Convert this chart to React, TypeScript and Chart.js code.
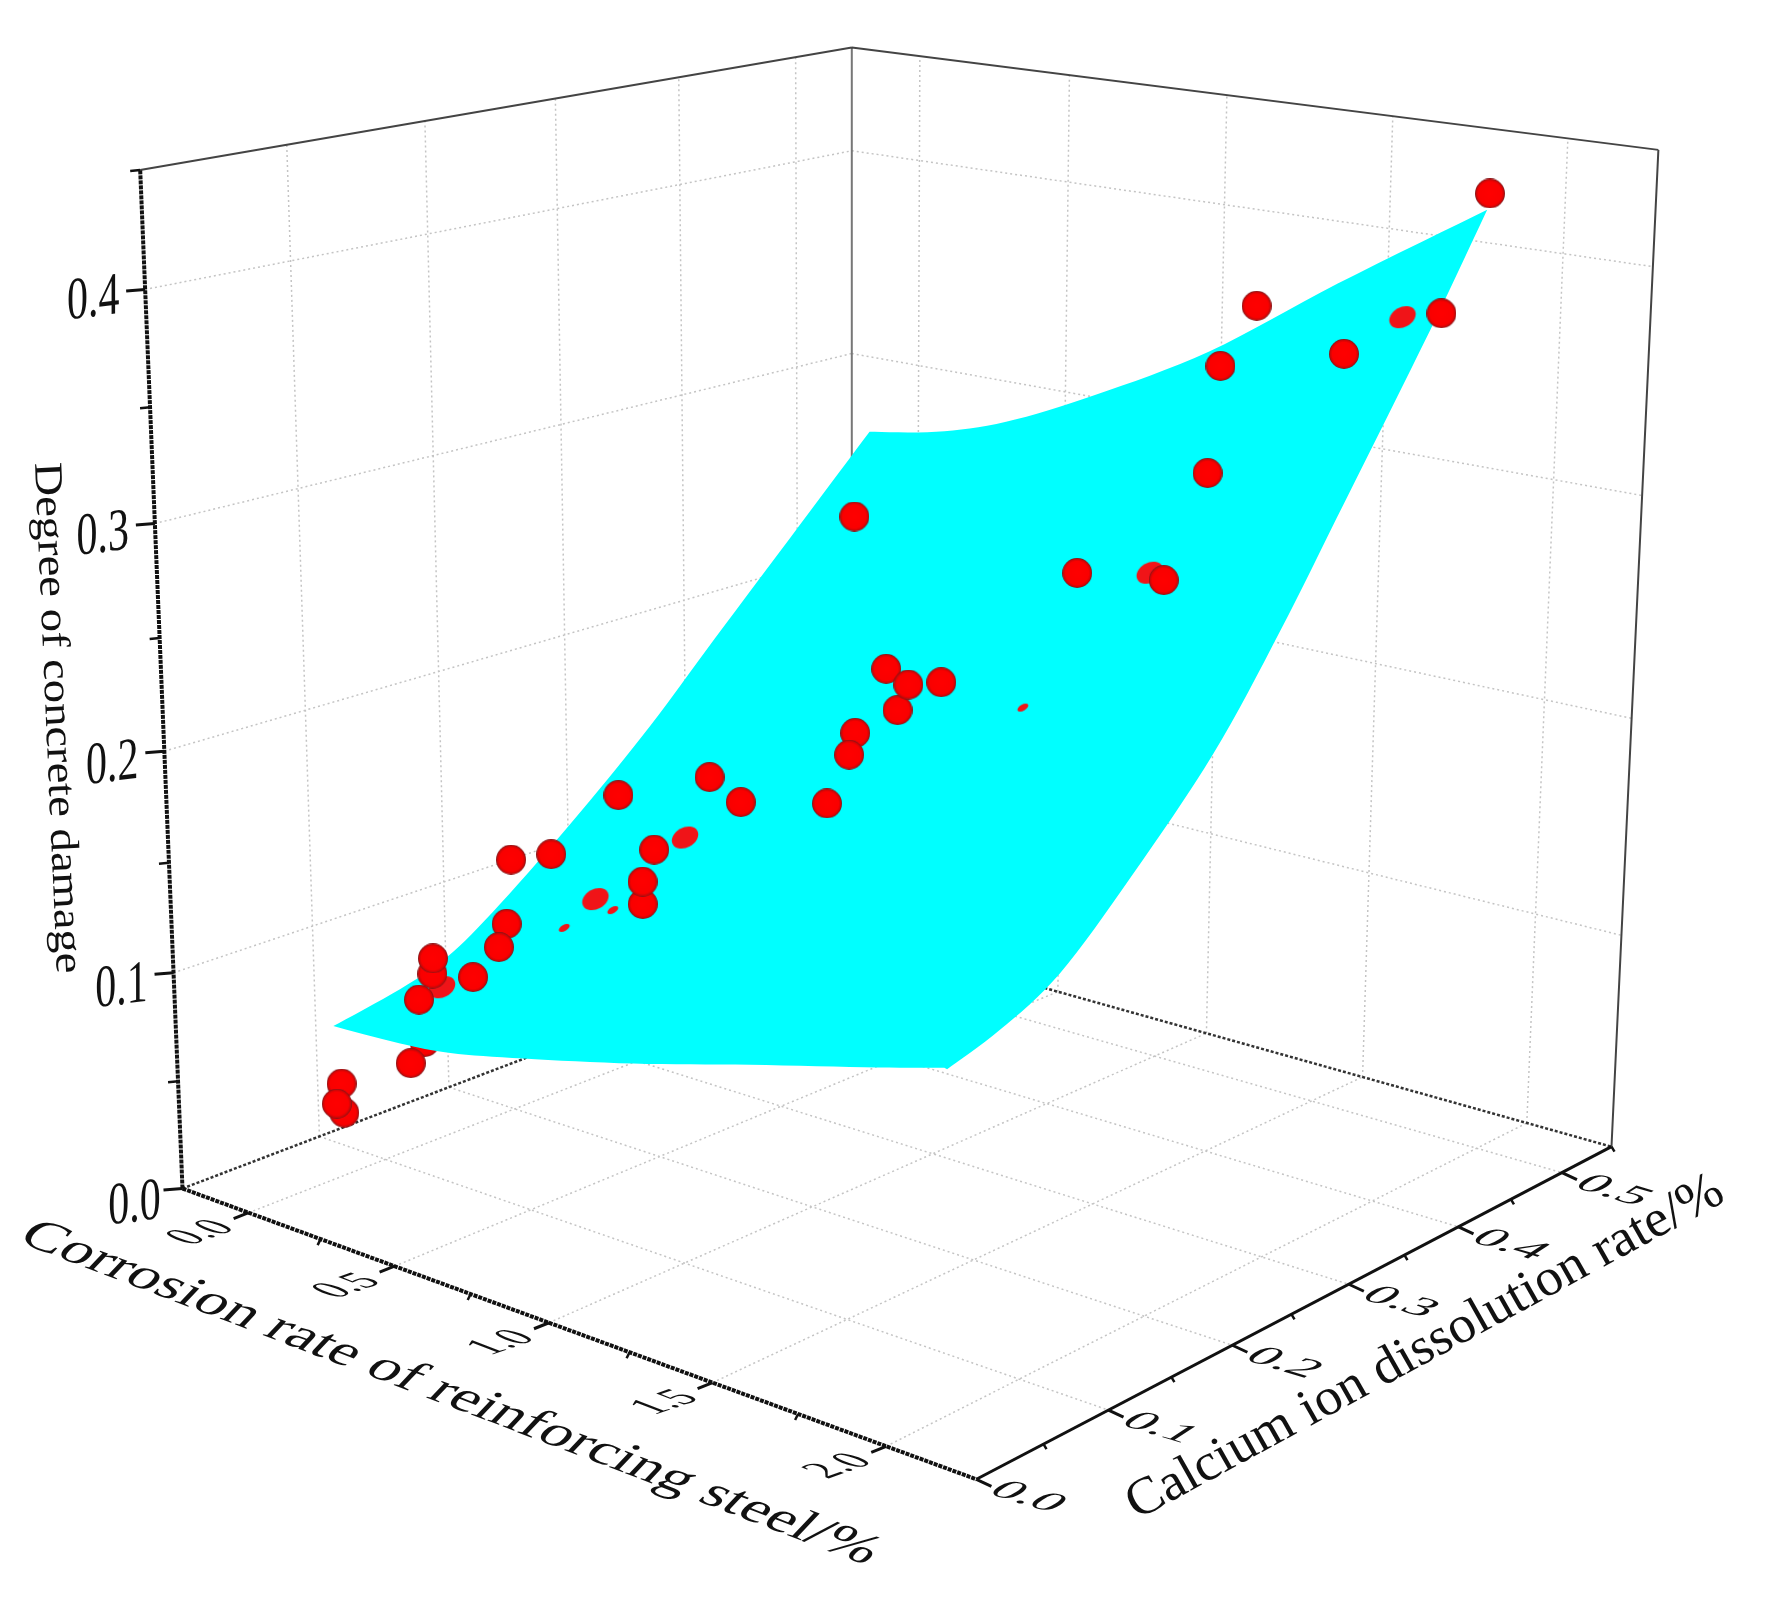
import React, { useRef, useEffect } from 'react';
import { Chart, registerables } from 'chart.js';

Chart.register(...registerables);

// measured points, back to front (later ones paint over earlier ones)
const corrosionRate = [0.199, 0.193, 0.174, 0.336, 0.318, 0.275, 0.346, 0.464, 0.425, 0.461, 0.245, 0.372, 0.425, 0.817, 0.762, 0.711, 0.699, 0.876, 1.163, 1.085, 1.117, 1.026, 1.172, 1.14, 1.247, 0.422, 1.441, 1.746, 1.653, 1.435, 1.605, 1.846, 2.071, 2.03];
const calciumRate = [0.03, 0.03, 0.03, 0.05, 0.071, 0.081, 0.055, 0.069, 0.103, 0.089, 0.147, 0.149, 0.189, 0.115, 0.128, 0.149, 0.195, 0.176, 0.171, 0.213, 0.2, 0.253, 0.224, 0.241, 0.239, 0.383, 0.296, 0.28, 0.343, 0.418, 0.397, 0.4, 0.413, 0.4675];
const damage = [0.048, 0.061, 0.051, 0.072, 0.107, 0.11, 0.1, 0.112, 0.127, 0.121, 0.14, 0.147, 0.168, 0.149, 0.154, 0.162, 0.185, 0.184, 0.195, 0.215, 0.209, 0.234, 0.226, 0.233, 0.238, 0.263, 0.282, 0.291, 0.324, 0.354, 0.387, 0.372, 0.393, 0.436];

// points that lie under the fitted surface
const hiddenCorrosion = [0.54];
const hiddenCalcium = [0.017];
const hiddenDamage = [0.098];
const partCorrosion = [0.392, 0.652, 0.785, 1.682, 1.968];
const partCalcium = [0.062, 0.118, 0.155, 0.287, 0.412];
const partDamage = [0.106, 0.144, 0.169, 0.291, 0.389];
const tipCorrosion = [0.738, 0.628, 1.569];
const tipCalcium = [0.111, 0.1, 0.217];
const tipDamage = [0.144, 0.134, 0.242];

// fitted surface, read along its four edges
const surfaceCorrosionMin = 0.146;
const surfaceCorrosionMax = 2.024;
const surfaceCalciumMin = 0.035;
const surfaceCalciumMax = 0.4675;
const frontCorrosion = [0.146, 0.373, 0.54, 0.778, 1.123, 1.475, 1.839, 2.024];
const frontDamage = [0.084, 0.086, 0.089, 0.097, 0.11, 0.125, 0.14, 0.148];
const rightCalcium = [0.037, 0.076, 0.121, 0.177, 0.241, 0.295, 0.348, 0.419, 0.4675];
const rightDamage = [0.147, 0.154, 0.167, 0.196, 0.234, 0.276, 0.322, 0.384, 0.429];
const backCorrosion = [0.146, 0.371, 0.602, 0.886, 1.238, 1.611, 2.024];
const backDamage = [0.283, 0.289, 0.3, 0.32, 0.349, 0.388, 0.429];
const leftCalcium = [0.035, 0.084, 0.119, 0.16, 0.223, 0.28, 0.334, 0.406, 0.4675];
const leftDamage = [0.084, 0.09, 0.097, 0.113, 0.143, 0.173, 0.205, 0.247, 0.283];

const corrosionTicks = [0, 0.5, 1, 1.5, 2];
const corrosionMinor = [0.25, 0.75, 1.25, 1.75];
const calciumTicks = [0, 0.1, 0.2, 0.3, 0.4, 0.5];
const calciumMinor = [0.05, 0.15, 0.25, 0.35, 0.45, 0.55];
const damageTicks = [0, 0.1, 0.2, 0.3, 0.4];
const damageMinor = [0.05, 0.15, 0.25, 0.35, 0.45];

const U0 = -0.236, U1 = 2.248, V1 = 0.55, Z1 = 0.45;
const W = 1767, H = 1603;
const SERIF = '"Liberation Serif"';

type P3 = [number, number, number];
type Pt = { x: number; y: number };

// perspective camera fitted to the box corners
function project([u, v, z]: P3): Pt {
  const s = (u - U0) / (U1 - U0), t = v / V1, r = z / Z1;
  const w = -0.13425 * s + 0.15725 * t - 0.05946 * r + 1;
  return {
    x: (662.82 * s + 803.24 * t - 50.65 * r + 182.5) / w,
    y: (92.2 * s - 107.63 * t - 1028.66 * r + 1188.5) / w,
  };
}

const GAP: Pt = { x: NaN, y: NaN };

function segments(list: [P3, P3][]): Pt[] {
  const out: Pt[] = [];
  list.forEach(([a, b]) => out.push(project(a), project(b), GAP));
  return out;
}

function ticks(list: P3[], dx: number, dy: number): Pt[] {
  const out: Pt[] = [];
  list.forEach(p => {
    const a = project(p);
    out.push(a, { x: a.x + dx, y: a.y + dy }, GAP);
  });
  return out;
}

// rounds one surface edge for drawing, its ends stay where they are
function roundEdge(pts: Pt[]): Pt[] {
  const out: Pt[] = [];
  for (let i = 0; i < pts.length - 1; i++) {
    const p0 = pts[Math.max(i - 1, 0)], p1 = pts[i], p2 = pts[i + 1], p3 = pts[Math.min(i + 2, pts.length - 1)];
    for (let k = 0; k < 8; k++) {
      const f = k / 8, f2 = f * f, f3 = f2 * f;
      const at = (a: number, b: number, c: number, d: number) =>
        0.5 * (2 * b + (c - a) * f + (2 * a - 5 * b + 4 * c - d) * f2 + (3 * b - a - 3 * c + d) * f3);
      out.push({ x: at(p0.x, p1.x, p2.x, p3.x), y: at(p0.y, p1.y, p2.y, p3.y) });
    }
  }
  out.push(pts[pts.length - 1]);
  return out;
}

function lineSet(data: Pt[], color: string, width: number, dash: number[] = []) {
  return { data, showLine: true, borderColor: color, borderWidth: width, borderDash: dash, pointRadius: 0, fill: false, spanGaps: false, clip: false };
}

function sphere(radius: number) {
  const c = document.createElement('canvas');
  c.width = c.height = radius * 2;
  const g = c.getContext('2d')!;
  const grad = g.createRadialGradient(radius, radius, 0, radius, radius, radius);
  grad.addColorStop(0, '#ff0000');
  grad.addColorStop(0.78, '#fa0000');
  grad.addColorStop(0.92, '#c80808');
  grad.addColorStop(1, '#70181c');
  g.fillStyle = grad;
  g.beginPath();
  g.arc(radius, radius, radius, 0, Math.PI * 2);
  g.fill();
  return c;
}

function sliver(rx: number, ry: number) {
  const c = document.createElement('canvas');
  c.width = c.height = rx * 2 + 2;
  const g = c.getContext('2d')!;
  g.fillStyle = '#f01418';
  g.beginPath();
  g.ellipse(rx + 1, rx + 1, rx, ry, -0.5, 0, Math.PI * 2);
  g.fill();
  return c;
}

function pointSet(us: number[], vs: number[], zs: number[], style: HTMLCanvasElement, radius: number) {
  return {
    data: us.map((u, i) => project([u, vs[i], zs[i]])),
    showLine: false,
    pointStyle: style,
    pointRadius: radius,
    clip: false,
  };
}

function skewText(ctx: CanvasRenderingContext2D, text: string, cx: number, cy: number, ex: number[], ey: number[]) {
  ctx.save();
  ctx.transform(ex[0], ex[1], ey[0], ey[1], cx, cy);
  ctx.textAlign = 'center';
  ctx.textBaseline = 'middle';
  ctx.fillText(text, 0, 0);
  ctx.restore();
}

function titleText(ctx: CanvasRenderingContext2D, text: string, from: number[], to: number[], up: number[]) {
  const size = parseFloat(ctx.font);
  const w = ctx.measureText(text).width;
  ctx.save();
  ctx.transform((to[0] - from[0]) / w, (to[1] - from[1]) / w, -up[0] / size, -up[1] / size, from[0], from[1]);
  ctx.textAlign = 'left';
  ctx.textBaseline = 'alphabetic';
  ctx.fillText(text, 0, 0);
  ctx.restore();
}

const axisText = {
  id: 'axisText',
  afterDraw(chart: Chart) {
    const ctx = chart.ctx;
    ctx.save();
    ctx.fillStyle = '#111';
    ctx.font = `40px ${SERIF}`;
    damageTicks.forEach(z => {
      const p = project([U0, 0, z]);
      skewText(ctx, z.toFixed(1), p.x - (z === 0 ? 48 : 52), p.y + 17 - z * 15, [1.05, -0.13], [0, 1.5]);
    });
    corrosionTicks.forEach(u => {
      const p = project([u, 0, 0]);
      skewText(ctx, u.toFixed(1), p.x - 47, p.y + 20, [0.95, -0.33], [1.1, 0.42]);
    });
    calciumTicks.forEach(v => {
      const p = project([U1, v, 0]);
      skewText(ctx, v.toFixed(1), p.x + 51, p.y + 18, [1.3, 0.39], [-0.82, 0.53]);
    });
    titleText(ctx, 'Degree of concrete damage', [35, 463], [57, 974], [40, -2]);
    titleText(ctx, 'Corrosion rate of reinforcing steel/%', [16, 1241], [866, 1565], [34, -36]);
    titleText(ctx, 'Calcium ion dissolution rate/%', [1137, 1520], [1727, 1200], [-26, -46]);
    ctx.restore();
  },
};

export default function App() {
  const canvasRef = useRef<HTMLCanvasElement>(null);

  useEffect(() => {
    if (!canvasRef.current) return;

    const gridLines: [P3, P3][] = [];
    corrosionTicks.forEach(u => {
      gridLines.push([[u, 0, 0], [u, V1, 0]]);
      gridLines.push([[u, V1, 0], [u, V1, Z1]]);
    });
    calciumTicks.slice(1).forEach(v => {
      gridLines.push([[U0, v, 0], [U1, v, 0]]);
      gridLines.push([[U0, v, 0], [U0, v, Z1]]);
    });
    damageTicks.slice(1).forEach(z => {
      gridLines.push([[U0, 0, z], [U0, V1, z]]);
      gridLines.push([[U0, V1, z], [U1, V1, z]]);
    });

    const surface: Pt[] = [
      ...roundEdge(frontCorrosion.map((u, i) => project([u, surfaceCalciumMin, frontDamage[i]]))),
      ...roundEdge(rightCalcium.map((v, i) => project([surfaceCorrosionMax, v, rightDamage[i]]))),
      ...roundEdge(backCorrosion.map((u, i) => project([u, surfaceCalciumMax, backDamage[i]]))).reverse(),
      ...roundEdge(leftCalcium.map((v, i) => project([surfaceCorrosionMin, v, leftDamage[i]]))).reverse(),
    ];

    // back to front, reversed below because chart.js paints the first dataset last
    const layers: any[] = [
      lineSet(segments(gridLines), '#c4c4c4', 1.5, [2, 3]),
      lineSet(segments([[[U0, 0, 0], [U0, V1, 0]], [[U0, V1, 0], [U1, V1, 0]]]), '#333', 2.5, [3, 2]),
      lineSet(segments([[[U0, V1, 0], [U0, V1, Z1]]]), '#777', 2),
      lineSet(segments([[[U0, 0, Z1], [U0, V1, Z1]], [[U0, V1, Z1], [U1, V1, Z1]], [[U1, V1, Z1], [U1, V1, 0]]]), '#444', 2),
      pointSet(hiddenCorrosion, hiddenCalcium, hiddenDamage, sphere(15), 15),
      { data: surface, showLine: true, borderWidth: 0, borderColor: '#00ffff', backgroundColor: '#00ffff', fill: 'shape', pointRadius: 0, clip: false },
      pointSet(tipCorrosion, tipCalcium, tipDamage, sliver(6, 3), 6),
      pointSet(partCorrosion, partCalcium, partDamage, sliver(14, 10), 14),
      pointSet(corrosionRate, calciumRate, damage, sphere(15), 15),
      lineSet(segments([[[U0, 0, 0], [U0, 0, Z1]]]), '#111', 4, [4, 1]),
      lineSet(segments([[[U0, 0, 0], [U1, 0, 0]]]), '#111', 4, [4, 1]),
      lineSet(segments([[[U1, 0, 0], [U1, V1, 0]]]), '#111', 3),
      lineSet([
        ...ticks(corrosionTicks.map(u => [u, 0, 0] as P3), -15, 6),
        ...ticks(calciumTicks.map(v => [U1, v, 0] as P3), 15, 7),
        ...ticks(damageTicks.map(z => [U0, 0, z] as P3), -19, 1.5),
      ], '#111', 3),
      lineSet([
        ...ticks(corrosionMinor.map(u => [u, 0, 0] as P3), -3, 6),
        ...ticks(calciumMinor.map(v => [U1, v, 0] as P3), 3, 5),
        ...ticks(damageMinor.map(z => [U0, 0, z] as P3), -10, 1),
      ], '#111', 2.5),
    ];

    const chart = new Chart(canvasRef.current, {
      type: 'scatter',
      data: { datasets: layers.reverse() },
      options: {
        responsive: false,
        animation: false,
        events: [],
        layout: { padding: 0, autoPadding: false },
        plugins: { legend: { display: false }, tooltip: { enabled: false } },
        scales: {
          x: { type: 'linear', display: false, min: 0, max: W },
          y: { type: 'linear', display: false, min: 0, max: H, reverse: true },
        },
      },
      plugins: [axisText],
    });

    return () => chart.destroy();
  }, []);

  return (
    <div style={{ position: 'absolute', left: 0, top: 0, width: W, height: H, background: '#fff' }}>
      <canvas ref={canvasRef} width={W} height={H} style={{ display: 'block' }} />
    </div>
  );
}
